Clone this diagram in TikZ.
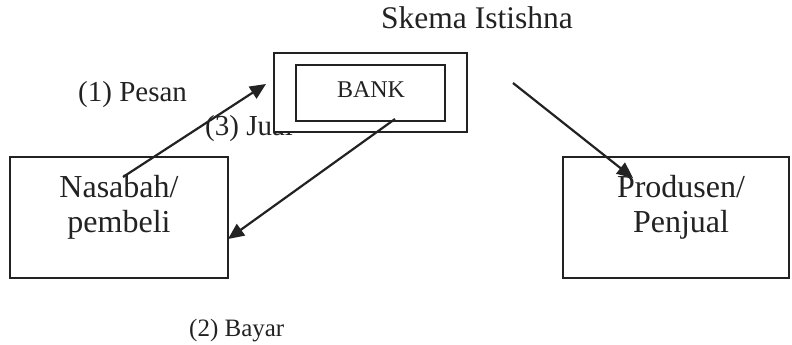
\documentclass[tikz,border=0pt]{standalone}
\usepackage{fontspec}
\setmainfont{Liberation Serif}
\usetikzlibrary{arrows.meta}
\definecolor{ink}{HTML}{222222}
\begin{document}
\begin{tikzpicture}[x=1pt,y=-1pt,
  box/.style={draw=ink, line width=1.9pt, fill=white, inner sep=0pt},
  lbl/.style={inner sep=0pt, anchor=base west, text=ink},
  boxtext/.style={inner sep=0pt, align=center, text=ink, font=\fontsize{32}{35}\selectfont},
  conn/.style={draw=ink, line width=2.2pt, -{Triangle[length=16pt,width=14pt]}}]
\useasboundingbox (0,0) rectangle (792,345);
% title and labels
\node[lbl, font=\fontsize{31.5}{36}\selectfont] (title) at (381,29) {Skema Istishna};
\node[lbl, font=\fontsize{29}{34}\selectfont] (pesan) at (78,101) {(1) Pesan};
\node[lbl, font=\fontsize{29}{34}\selectfont] (jual) at (205,135) {(3) Jual};
\node[lbl, font=\fontsize{25}{30}\selectfont] (bayar) at (189,336) {(2) Bayar};
% boxes
\node[box, minimum width=193pt, minimum height=79pt] (bankouter) at (370.5,92.5) {};
\node[box, minimum width=149pt, minimum height=56pt] (bank) at (370.5,93) {};
\node[lbl, anchor=base, font=\fontsize{24}{28}\selectfont] (banktext) at (371,97) {BANK};
\node[box, minimum width=218pt, minimum height=121pt] (nasabah) at (119,217.5) {};
\node[boxtext] (nasabahtext) at (119,207) {Nasabah/\\pembeli};
\node[box, minimum width=226pt, minimum height=121pt] (produsen) at (676,217.5) {};
\node[boxtext] (produsentext) at (681,207.5) {Produsen/\\Penjual};
% connector end points
\coordinate (a1) at (123,177);
\coordinate (b1) at (266,84);
\coordinate (a2) at (395,119);
\coordinate (b2) at (228,239);
\coordinate (a3) at (513,83);
\coordinate (b3) at (633,178);
\draw[conn] (a1) -- (b1);
\draw[conn] (a2) -- (b2);
\draw[conn] (a3) -- (b3);
\end{tikzpicture}
\end{document}
